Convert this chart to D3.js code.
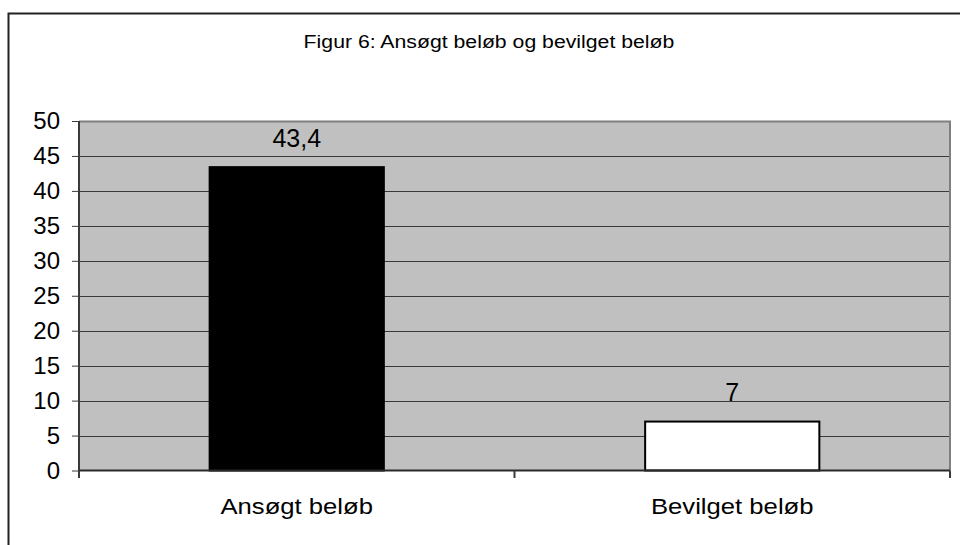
<!DOCTYPE html>
<html>
<head>
<meta charset="utf-8">
<script src="https://cdn.jsdelivr.net/npm/d3@7"></script>
<style>
  html, body { margin: 0; padding: 0; background: #fff; }
  svg { display: block; }
  text { font-family: "Liberation Sans", Arial, sans-serif; fill: #000; }
</style>
</head>
<body>
<svg id="chart" width="960" height="545"></svg>
<script>
const title = "Figur 6: Ansøgt beløb og bevilget beløb";
const categories = ["Ansøgt beløb", "Bevilget beløb"];
const values = [43.4, 7];
const valueLabels = ["43,4", "7"];
const barFills = ["#000000", "#ffffff"];
const yTicks = [0, 5, 10, 15, 20, 25, 30, 35, 40, 45, 50];

const svg = d3.select("#chart");
const plot = { left: 79, right: 950, top: 121, bottom: 470.5 };

// outer chart border (extends beyond viewport on right/bottom)
svg.append("rect")
  .attr("x", 8.5).attr("y", 13.5).attr("width", 980).attr("height", 560)
  .attr("fill", "#fff").attr("stroke", "#222").attr("stroke-width", 2);

// title (reference text is horizontally stretched)
const t = svg.append("text")
  .attr("x", 489).attr("y", 48)
  .attr("text-anchor", "middle")
  .attr("font-size", 18)
  .text(title);
t.attr("textLength", t.node().getComputedTextLength() * 1.18).attr("lengthAdjust", "spacingAndGlyphs");

const x = d3.scaleBand().domain(categories).range([plot.left, plot.right]).paddingInner(0.6).paddingOuter(0.3);
const xb = d3.scaleBand().domain(categories).range([plot.left, plot.right]);
const y = d3.scaleLinear().domain([0, 50]).range([plot.bottom, plot.top]);

// plot background
svg.append("rect")
  .attr("x", plot.left).attr("y", plot.top)
  .attr("width", plot.right - plot.left).attr("height", plot.bottom - plot.top)
  .attr("fill", "#c0c0c0");

// gridlines
svg.append("g").selectAll("line").data(yTicks.filter(d => d > 0 && d < 50)).join("line")
  .attr("x1", plot.left).attr("x2", plot.right)
  .attr("y1", d => Math.round(y(d)) + 0.5).attr("y2", d => Math.round(y(d)) + 0.5)
  .attr("stroke", "#3a3a3a").attr("stroke-width", 1);

// plot border top/right
svg.append("path")
  .attr("d", `M${plot.left},${plot.top + 0.5}H${plot.right}V${plot.bottom}`)
  .attr("fill", "none").attr("stroke", "#7f7f7f").attr("stroke-width", 2);

// bars
svg.append("g").selectAll("rect").data(values).join("rect")
  .attr("x", (d, i) => x(categories[i]))
  .attr("width", x.bandwidth())
  .attr("y", d => y(d))
  .attr("height", d => y(0) - y(d))
  .attr("fill", (d, i) => barFills[i])
  .attr("stroke", "#000").attr("stroke-width", 2);

// value labels
svg.append("g").selectAll("text").data(values).join("text")
  .attr("x", (d, i) => x(categories[i]) + x.bandwidth() / 2)
  .attr("y", d => y(d) - 20.5)
  .attr("text-anchor", "middle")
  .attr("font-size", 25)
  .text((d, i) => valueLabels[i]);

// y axis
const yAxis = d3.axisLeft(y).tickValues(yTicks).tickSize(7).tickPadding(12).tickFormat(d3.format("d"));
const gy = svg.append("g").attr("transform", `translate(${plot.left},0)`).call(yAxis);
gy.select(".domain").remove();
gy.selectAll(".tick line").attr("stroke", "#3a3a3a");
gy.selectAll(".tick text").attr("font-size", 24).attr("font-family", "Liberation Sans, Arial, sans-serif").attr("fill", "#000");
svg.append("line").attr("x1", plot.left).attr("x2", plot.left).attr("y1", plot.top).attr("y2", plot.bottom + 7.5)
  .attr("stroke", "#3a3a3a").attr("stroke-width", 2);

// x axis
svg.append("line").attr("x1", plot.left).attr("x2", plot.right).attr("y1", plot.bottom).attr("y2", plot.bottom)
  .attr("stroke", "#2a2a2a").attr("stroke-width", 2);
const xTickPos = [plot.left, ...categories.slice(1).map(c => xb(c)), plot.right];
svg.append("g").selectAll("line").data(xTickPos).join("line")
  .attr("x1", d => d).attr("x2", d => d).attr("y1", plot.bottom).attr("y2", plot.bottom + 7.5)
  .attr("stroke", "#3a3a3a").attr("stroke-width", 2);

// category labels (horizontally stretched like reference)
svg.append("g").selectAll("text").data(categories).join("text")
  .attr("x", d => x(d) + x.bandwidth() / 2)
  .attr("y", 514)
  .attr("text-anchor", "middle")
  .attr("font-size", 22.5)
  .text(d => d)
  .each(function() {
    d3.select(this).attr("textLength", this.getComputedTextLength() * 1.14).attr("lengthAdjust", "spacingAndGlyphs");
  });
</script>
</body>
</html>
